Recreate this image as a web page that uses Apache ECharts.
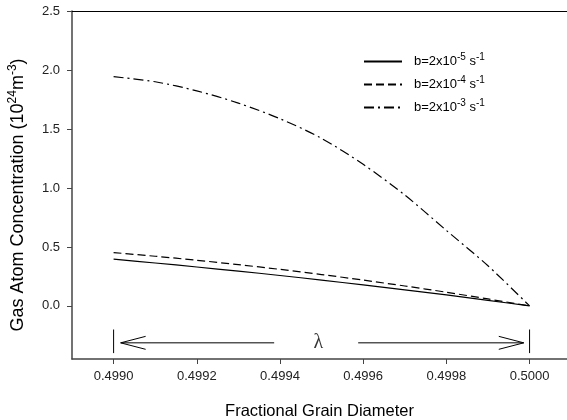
<!DOCTYPE html>
<html>
<head>
<meta charset="utf-8">
<script src="https://cdn.jsdelivr.net/npm/echarts@6/dist/echarts.min.js"></script>
<style>html,body{margin:0;padding:0;background:#fff}#c{width:567px;height:420px}</style>
</head>
<body>
<div id="c"></div>
<script>
// Data
const xValues = [0.4990, 0.4991, 0.4992, 0.4993, 0.4994, 0.4995, 0.4996, 0.4997, 0.4998, 0.4999, 0.5000];
const seriesB5 = [0.396, 0.364, 0.330, 0.295, 0.258, 0.219, 0.178, 0.136, 0.093, 0.047, 0.0];
const seriesB4 = [0.452, 0.421, 0.387, 0.350, 0.310, 0.266, 0.219, 0.169, 0.116, 0.059, 0.0];
const seriesB3 = [1.943, 1.900, 1.823, 1.719, 1.587, 1.420, 1.200, 0.940, 0.640, 0.340, 0.0];
const seriesNames = ['b5', 'b4', 'b3'];
const xTickValues = [0.4990, 0.4992, 0.4994, 0.4996, 0.4998, 0.5000];
const yTickValues = [0.0, 0.5, 1.0, 1.5, 2.0, 2.5];
// lambda annotation (data coordinates)
const lambdaLeft = 0.4990, lambdaRight = 0.5000;
const lambdaBarY = [-0.2, -0.4];
const lambdaArrowY = -0.313;
const lambdaLeftShaftEnd = 0.499386, lambdaRightShaftStart = 0.499588;
const lambdaLeftTip = 0.499017, lambdaRightTip = 0.499986;
const headLen = 0.00006, headHalf = 0.055;
const lambdaLabelX = 0.499492;

const font = 'Liberation Sans, Arial, Helvetica, sans-serif';
const legendLabels = {
  b5: 'b=2x10{sup|-5} s{sup|-1}',
  b4: 'b=2x10{sup|-4} s{sup|-1}',
  b3: 'b=2x10{sup|-3} s{sup|-1}'
};
function pairs(ys) { return xValues.map((x, i) => [x, ys[i]]); }
function seg(pts) {
  return {type: 'line', data: pts, symbol: 'none', silent: true,
    lineStyle: {color: '#000', width: 1}, z: 3, animation: false};
}

const chart = echarts.init(document.getElementById('c'), null, {renderer: 'canvas'});
chart.setOption({
  animation: false,
  backgroundColor: '#fff',
  grid: {left: 72, right: 0, top: 11, bottom: 61, containLabel: false, outerBoundsMode: 'none'},
  legend: {
    data: seriesNames,
    orient: 'vertical',
    left: 363, top: 52, padding: 0,
    itemWidth: 38, itemHeight: 14, itemGap: 7,
    itemStyle: {opacity: 0},
    formatter: n => legendLabels[n],
    textStyle: {fontFamily: font, fontSize: 13, color: '#000', padding: [0, 0, 0, 7],
      rich: {sup: {fontSize: 10, verticalAlign: 'bottom', padding: [0,0,9,0], fontFamily: font, color: '#000'}}}
  },
  xAxis: [{
    type: 'value', min: 0.4989, max: 0.50009,
    name: 'Fractional Grain Diameter', nameLocation: 'middle', nameGap: 44,
    nameTextStyle: {fontFamily: font, fontSize: 16.5, color: '#000'},
    axisLine: {show: true, onZero: false, lineStyle: {color: '#444', width: 1.5}},
    axisTick: {show: true, length: 5, customValues: xTickValues, lineStyle: {color: '#444'}},
    axisLabel: {customValues: xTickValues, formatter: v => v.toFixed(4), fontFamily: font, fontSize: 13, color: '#222', margin: 11},
    splitLine: {show: false}
  }, {
    type: 'value', position: 'top', min: 0.4989, max: 0.50009,
    axisLine: {show: true, onZero: false, lineStyle: {color: '#000', width: 1}},
    axisTick: {show: false}, axisLabel: {show: false}, splitLine: {show: false}
  }],
  yAxis: {
    type: 'value', min: -0.45, max: 2.5,
    name: 'Gas Atom Concentration (10{sup|24}m{sup|-3})', nameLocation: 'middle', nameGap: 42,
    nameTextStyle: {fontFamily: font, fontSize: 18, color: '#000', padding: [0, 20, 0, 0],
      rich: {sup: {fontSize: 12, verticalAlign: 'bottom', padding: [0,0,11,0], fontFamily: font, color: '#000'}}},
    axisLine: {show: true, onZero: false, lineStyle: {color: '#444', width: 1.5}},
    axisTick: {show: true, length: 5, customValues: yTickValues, lineStyle: {color: '#444'}},
    axisLabel: {customValues: yTickValues, formatter: v => v.toFixed(1), fontFamily: font, fontSize: 13, color: '#222', margin: 12},
    splitLine: {show: false}
  },
  series: [
    {name: 'b5', type: 'line', data: pairs(seriesB5), symbol: 'none', smooth: 0.3,
      lineStyle: {color: '#000', width: 1.2, type: 'solid'}, itemStyle: {color: '#000'}},
    {name: 'b4', type: 'line', data: pairs(seriesB4), symbol: 'none', smooth: 0.3,
      lineStyle: {color: '#000', width: 1.2, type: [8, 4]}, itemStyle: {color: '#000'}},
    {name: 'b3', type: 'line', data: pairs(seriesB3), symbol: 'none', smooth: 0.3,
      lineStyle: {color: '#000', width: 1.2, type: [10, 4, 2, 4]}, itemStyle: {color: '#000'}},
    seg([[lambdaLeft, lambdaBarY[0]], [lambdaLeft, lambdaBarY[1]]]),
    seg([[lambdaRight, lambdaBarY[0]], [lambdaRight, lambdaBarY[1]]]),
    seg([[lambdaLeftShaftEnd, lambdaArrowY], [lambdaLeftTip, lambdaArrowY]]),
    seg([[lambdaLeftTip + headLen, lambdaArrowY + headHalf], [lambdaLeftTip, lambdaArrowY], [lambdaLeftTip + headLen, lambdaArrowY - headHalf]]),
    seg([[lambdaRightShaftStart, lambdaArrowY], [lambdaRightTip, lambdaArrowY]]),
    seg([[lambdaRightTip - headLen, lambdaArrowY + headHalf], [lambdaRightTip, lambdaArrowY], [lambdaRightTip - headLen, lambdaArrowY - headHalf]]),
    {type: 'scatter', data: [[lambdaLabelX, lambdaArrowY]], symbolSize: 0, silent: true,
      label: {show: true, position: 'inside', formatter: 'λ', fontFamily: 'Liberation Serif, Times New Roman, serif', fontSize: 20, color: '#000'}}
  ]
});
</script>
</body>
</html>
